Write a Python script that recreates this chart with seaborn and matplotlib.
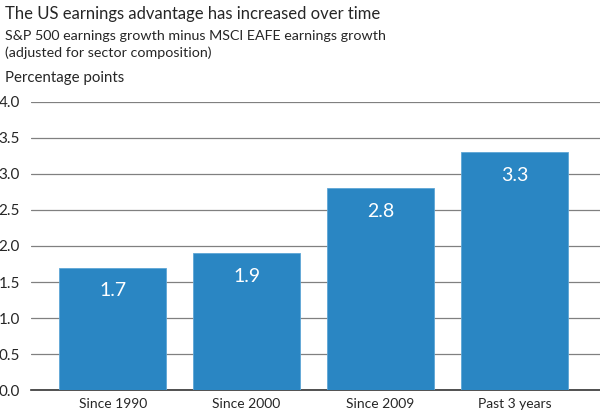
import seaborn as sns
import matplotlib.pyplot as plt
import pandas as pd

# Chart data
periods = ["Since 1990", "Since 2000", "Since 2009", "Past 3 years"]
advantage = [1.7, 1.9, 2.8, 3.3]
y_ticks = [0.0, 0.5, 1.0, 1.5, 2.0, 2.5, 3.0, 3.5, 4.0]

df = pd.DataFrame({"period": periods, "advantage": advantage})

sns.set_style("white")
plt.rcParams['font.family'] = ['Lato', 'DejaVu Sans']

fig = plt.figure(figsize=(6, 4.17), dpi=100)
ax = fig.add_axes([31 / 600, 27 / 417, 1 - 31 / 600, (390 - 102) / 417])

sns.barplot(data=df, x="period", y="advantage", color="#2A86C3", width=0.8,
            saturation=1, edgecolor="#5EA6D6", linewidth=0.6, ax=ax, zorder=3)

# Value labels inside the bars
for i, v in enumerate(advantage):
    ax.text(i, v - 0.32, f"{v:.1f}", ha="center", va="center",
            color="white", fontsize=14, zorder=4)

ax.set_ylim(0, 4.0)
ax.set_xlim(-0.61, 3.64)
ax.set_yticks(y_ticks)
ax.set_yticklabels([f"{t:.1f}" for t in y_ticks], fontsize=11)
ax.tick_params(axis="x", labelsize=10, length=0, pad=6)
ax.tick_params(axis="y", length=0, pad=8)
ax.yaxis.grid(True, color="#808080", linewidth=0.9)
ax.set_axisbelow(True)
ax.set_xlabel("")
ax.set_ylabel("")
for side in ["top", "right", "left"]:
    ax.spines[side].set_visible(False)
ax.spines["bottom"].set_color("#333333")
ax.spines["bottom"].set_linewidth(1.2)

fig.text(5 / 600, 1 - 14 / 417, "The US earnings advantage has increased over time",
         fontsize=12, va="center", ha="left")
fig.text(5 / 600, 1 - 36 / 417, "S&P 500 earnings growth minus MSCI EAFE earnings growth",
         fontsize=10.3, va="center", ha="left")
fig.text(5 / 600, 1 - 53 / 417, "(adjusted for sector composition)",
         fontsize=10.3, va="center", ha="left")
fig.text(5 / 600, 1 - 78 / 417, "Percentage points",
         fontsize=10.8, va="center", ha="left")

fig.savefig("out.png", dpi=100)
